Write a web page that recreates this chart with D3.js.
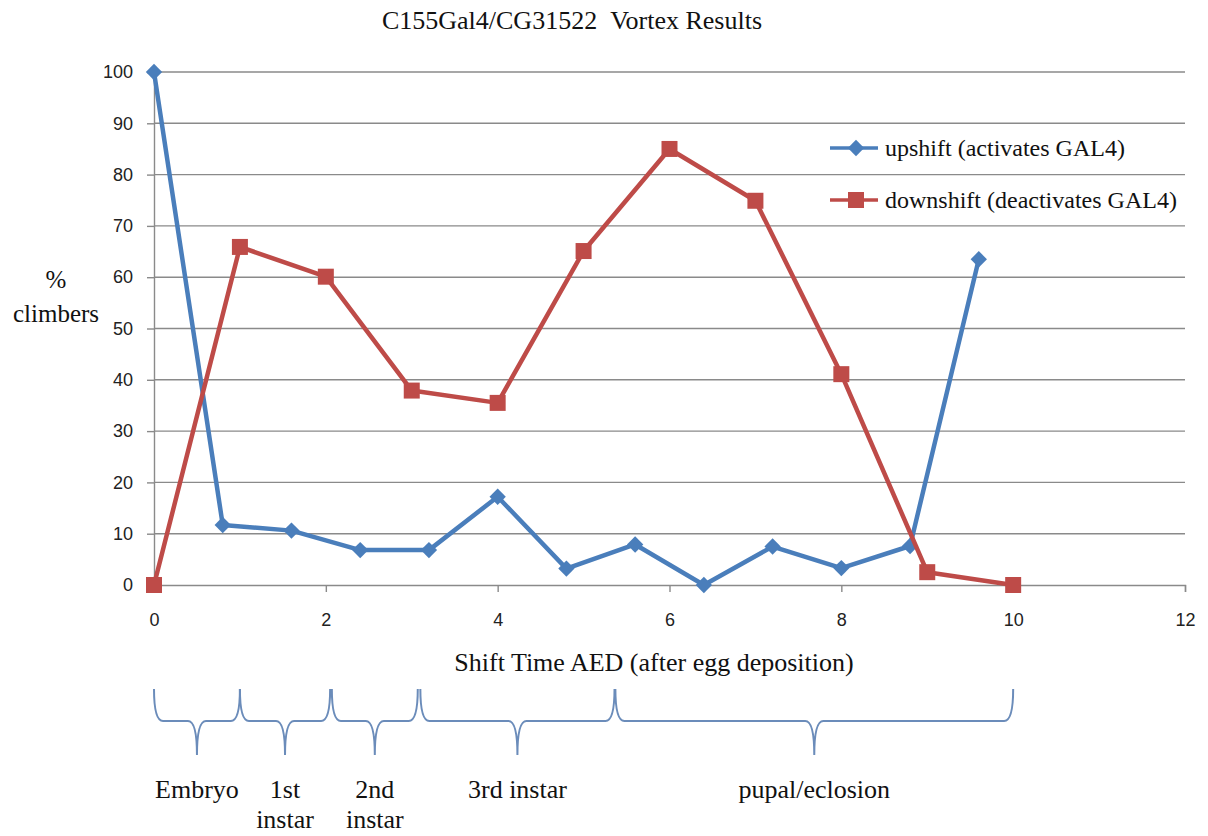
<!DOCTYPE html>
<html>
<head>
<meta charset="utf-8">
<script src="https://cdn.jsdelivr.net/npm/d3@7"></script>
<style>
  html, body { margin: 0; padding: 0; background: #ffffff; }
  svg { display: block; }
</style>
</head>
<body>
<svg id="chart" width="1208" height="836"></svg>
<script>
// ---- data ----
const titleText = "C155Gal4/CG31522\u00a0\u00a0Vortex Results";
const xTicks = [0, 2, 4, 6, 8, 10, 12];
const yTicks = [0, 10, 20, 30, 40, 50, 60, 70, 80, 90, 100];

const upshiftName = "upshift (activates GAL4)";
const upshiftX = [0, 0.8, 1.6, 2.4, 3.2, 4.0, 4.8, 5.6, 6.4, 7.2, 8.0, 8.8, 9.6];
const upshiftY = [100, 11.7, 10.6, 6.8, 6.8, 17.2, 3.2, 7.9, 0, 7.5, 3.3, 7.6, 63.5];

const downshiftName = "downshift (deactivates GAL4)";
const downshiftX = [0, 1, 2, 3, 4, 5, 6, 7, 8, 9, 10];
const downshiftY = [0, 65.9, 60.1, 37.9, 35.5, 65.1, 85, 74.9, 41.1, 2.5, 0];

const stageNames = [["Embryo"], ["1st", "instar"], ["2nd", "instar"], ["3rd instar"], ["pupal/eclosion"]];
const stageStart = [0, 1.0, 2.07, 3.1, 5.37];
const stageEnd = [1.0, 2.05, 3.07, 5.36, 10];

const xTitle = "Shift Time AED (after egg deposition)";
const yTitle = ["%", "climbers"];

// ---- layout ----
const svg = d3.select("#chart");
const x = d3.scaleLinear().domain([0, 12]).range([154, 1185]);
const y = d3.scaleLinear().domain([0, 100]).range([585, 72]);
const blue = "#4a7ebb", red = "#be4b48", grid = "#8a8a8a";
const serif = "'Liberation Serif', 'Times New Roman', serif";
const sans = "'Liberation Sans', Arial, sans-serif";

// gridlines
svg.append("g").selectAll("line").data(yTicks.filter(d => d > 0)).join("line")
  .attr("x1", x(0)).attr("x2", x(12))
  .attr("y1", d => y(d)).attr("y2", d => y(d))
  .attr("stroke", grid).attr("stroke-width", 1.4);

// y axis
const yAxis = svg.append("g").attr("transform", `translate(${x(0)},0)`)
  .call(d3.axisLeft(y).tickValues(yTicks).tickSize(7).tickPadding(14).tickFormat(d3.format("d")));
yAxis.select(".domain").attr("stroke", grid).attr("stroke-width", 1.4);
yAxis.selectAll(".tick line").attr("stroke", grid).attr("stroke-width", 1.4);
yAxis.selectAll(".tick text").attr("font-family", sans).attr("font-size", 18).attr("fill", "#222");

// x axis
const xAxis = svg.append("g").attr("transform", `translate(0,${y(0)})`)
  .call(d3.axisBottom(x).tickValues(xTicks).tickSize(7).tickPadding(21).tickFormat(d3.format("d")));
xAxis.select(".domain").attr("stroke", grid).attr("stroke-width", 1.4);
xAxis.selectAll(".tick line").attr("stroke", grid).attr("stroke-width", 1.4);
xAxis.selectAll(".tick text").attr("font-family", sans).attr("font-size", 18).attr("fill", "#222");

// lines
const up = upshiftX.map((v, i) => [v, upshiftY[i]]);
const down = downshiftX.map((v, i) => [v, downshiftY[i]]);
const line = d3.line().x(d => x(d[0])).y(d => y(d[1]));

const diamond = d3.symbol().type(d3.symbolDiamond2).size(170);
const square = d3.symbol().type(d3.symbolSquare).size(256);

svg.append("path").datum(up).attr("d", line)
  .attr("fill", "none").attr("stroke", blue).attr("stroke-width", 4.5).attr("stroke-linejoin", "round");
svg.append("g").selectAll("path").data(up).join("path")
  .attr("d", diamond).attr("transform", d => `translate(${x(d[0])},${y(d[1])})`)
  .attr("fill", blue);

svg.append("path").datum(down).attr("d", line)
  .attr("fill", "none").attr("stroke", red).attr("stroke-width", 4.5).attr("stroke-linejoin", "round");
svg.append("g").selectAll("path").data(down).join("path")
  .attr("d", square).attr("transform", d => `translate(${x(d[0])},${y(d[1])})`)
  .attr("fill", red);

// legend
const legend = [
  { name: upshiftName, color: blue, sym: diamond, y: 148 },
  { name: downshiftName, color: red, sym: square, y: 200 }
];
const lg = svg.append("g").selectAll("g").data(legend).join("g")
  .attr("transform", d => `translate(830,${d.y})`);
lg.append("line").attr("x1", 0).attr("x2", 48).attr("stroke", d => d.color).attr("stroke-width", 3.5);
lg.append("path").attr("d", d => d.sym()).attr("transform", "translate(26,0)").attr("fill", d => d.color);
lg.append("text").attr("x", 55).attr("dy", "0.32em").text(d => d.name)
  .attr("font-family", serif).attr("font-size", 24).attr("fill", "#111");

// title
svg.append("text").attr("x", 572).attr("y", 29).attr("text-anchor", "middle")
  .attr("font-family", serif).attr("font-size", 26).attr("fill", "#111").text(titleText);

// axis titles
svg.append("text").attr("x", 654).attr("y", 671).attr("text-anchor", "middle")
  .attr("font-family", serif).attr("font-size", 26).attr("fill", "#111").text(xTitle);
svg.append("g").selectAll("text").data(yTitle).join("text")
  .attr("x", 56).attr("y", (d, i) => 288 + i * 34).attr("text-anchor", "middle")
  .attr("font-family", serif).attr("font-size", 25).attr("fill", "#111").text(d => d);

// stage braces
const y0 = 689, y1 = 721, y2 = 755, r = 9;
function brace(a, b) {
  const x1 = x(a), x2 = x(b), xm = (x1 + x2) / 2;
  return `M${x1},${y0} Q${x1},${y1} ${x1 + r},${y1} L${xm - r},${y1} Q${xm},${y1} ${xm},${y2} ` +
         `M${xm},${y2} Q${xm},${y1} ${xm + r},${y1} L${x2 - r},${y1} Q${x2},${y1} ${x2},${y0}`;
}
const stages = stageNames.map((n, i) => ({ n, a: stageStart[i], b: stageEnd[i] }));
svg.append("g").selectAll("path").data(stages).join("path")
  .attr("d", d => brace(d.a, d.b))
  .attr("fill", "none").attr("stroke", "#6b8cba").attr("stroke-width", 2);

const st = svg.append("g").selectAll("text").data(stages).join("text")
  .attr("text-anchor", "middle").attr("font-family", serif).attr("font-size", 26).attr("fill", "#111")
  .attr("transform", d => `translate(${(x(d.a) + x(d.b)) / 2},798)`);
st.selectAll("tspan").data(d => d.n).join("tspan")
  .attr("x", 0).attr("y", (d, i) => i * 30).text(d => d);
</script>
</body>
</html>
